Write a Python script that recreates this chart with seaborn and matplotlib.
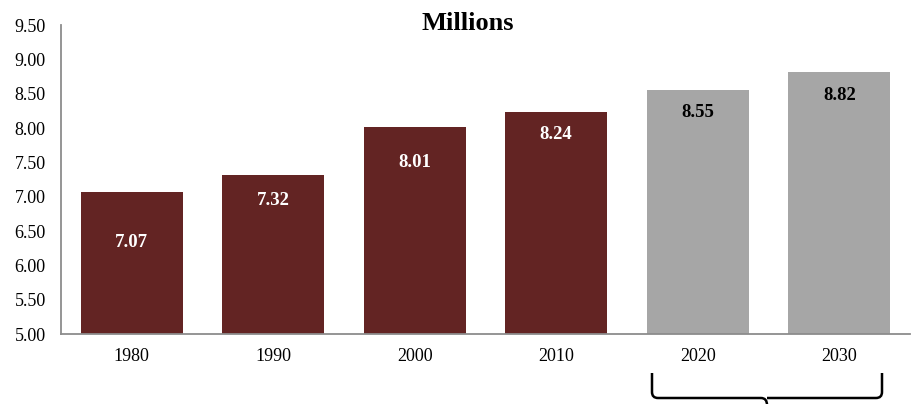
import matplotlib
matplotlib.use("Agg")
import matplotlib.pyplot as plt
import seaborn as sns
import pandas as pd
from matplotlib.path import Path
from matplotlib.patches import PathPatch
from matplotlib.ticker import FixedLocator, FormatStrFormatter

years = ["1980", "1990", "2000", "2010", "2020", "2030"]
values = [7.07, 7.32, 8.01, 8.24, 8.55, 8.82]
bar_colors = ["#632423", "#632423", "#632423", "#632423", "#A6A6A6", "#A6A6A6"]
label_colors = ["white", "white", "white", "white", "black", "black"]
label_drop = [0.74, 0.37, 0.51, 0.34, 0.33, 0.35]
y_ticks = [5.0, 5.5, 6.0, 6.5, 7.0, 7.5, 8.0, 8.5, 9.0, 9.5]
title = "Millions"

sns.set_theme(style="white")
plt.rcParams["font.family"] = ["Liberation Serif", "DejaVu Serif"]

df = pd.DataFrame({"year": years, "value": values})

fig = plt.figure(figsize=(9.14, 4.04), dpi=100)
ax = fig.add_axes([61 / 914, 70 / 404, 849 / 914, 309 / 404])

sns.barplot(data=df, x="year", y="value", hue="year", palette=bar_colors,
            legend=False, width=0.72, ax=ax, saturation=1, linewidth=0)

ax.set_ylim(5.0, 9.5)
ax.set_xlim(-0.5, len(years) - 0.5)
ax.set_yticks(y_ticks)
ax.yaxis.set_major_formatter(FormatStrFormatter("%.2f"))
ax.set_xlabel("")
ax.set_ylabel("")

ax.xaxis.set_minor_locator(FixedLocator([i - 0.5 for i in range(len(years) + 1)]))
ax.tick_params(axis="x", which="major", length=0, labelsize=13, pad=10, colors="black")
ax.tick_params(axis="x", which="minor", length=5, width=1.2, color="#8C8C8C", direction="out")
ax.tick_params(axis="y", length=5, width=1.2, color="#8C8C8C", direction="out",
               labelsize=13, pad=6, labelcolor="black")

for s in ["top", "right"]:
    ax.spines[s].set_visible(False)
for s in ["left", "bottom"]:
    ax.spines[s].set_color("#8C8C8C")
    ax.spines[s].set_linewidth(1.3)

for i, (v, c, d) in enumerate(zip(values, label_colors, label_drop)):
    ax.text(i, v - d, f"{v:.2f}", ha="center", va="center", color=c,
            fontsize=13.5, fontweight="bold")

fig.text(468 / 914, 1 - 23 / 404, title, ha="center", va="center",
         fontsize=19, fontweight="bold", color="black")

# curly brace below 2020-2030 (figure pixel coordinates)
H = 404.0
def P(x, y):
    return (x / 914.0, (H - y) / H)

xl, xr, xm = 652, 882, 767
yt, yh, yb = 373, 398, 405
r = 6
verts = [P(xl, yt), P(xl, yh - r), P(xl, yh), P(xl + r, yh),
         P(xm - r, yh), P(xm, yh), P(xm, yb),
         P(xm, yh), P(xm + r, yh), P(xr - r, yh),
         P(xr, yh), P(xr, yh - r), P(xr, yt)]
codes = [Path.MOVETO, Path.LINETO, Path.CURVE3, Path.CURVE3,
         Path.LINETO, Path.CURVE3, Path.CURVE3,
         Path.MOVETO, Path.CURVE3, Path.LINETO,
         Path.CURVE3, Path.CURVE3, Path.LINETO]
brace = PathPatch(Path(verts, codes), transform=fig.transFigure, fill=False,
                  edgecolor="black", linewidth=1.8)
fig.add_artist(brace)

fig.savefig("out.png", dpi=100)
